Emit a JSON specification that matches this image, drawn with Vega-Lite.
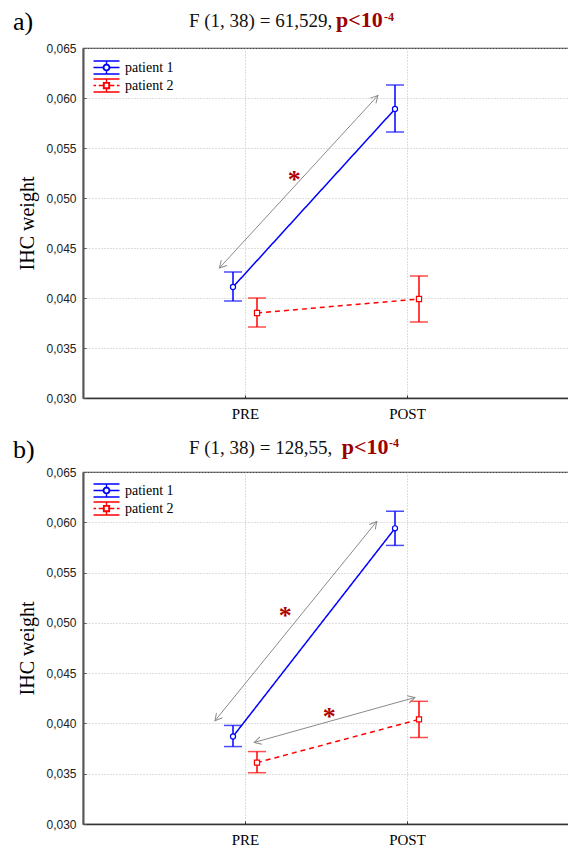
{
  "$schema": "https://vega.github.io/schema/vega-lite/v6.json",
  "background": "white",
  "padding": {"left": 12, "top": 8, "right": 0, "bottom": 0},
  "config": {
    "font": "Liberation Serif",
    "view": {"stroke": "#444", "strokeWidth": 1.2}
  },
  "datasets": {
    "means": [
      {"panel": "a", "patient": "patient 1", "time": "PRE", "mean": 0.0411, "lo": 0.0397, "hi": 0.0426},
      {"panel": "a", "patient": "patient 1", "time": "POST", "mean": 0.0589, "lo": 0.0566, "hi": 0.0613},
      {"panel": "a", "patient": "patient 2", "time": "PRE", "mean": 0.0385, "lo": 0.0371, "hi": 0.0400},
      {"panel": "a", "patient": "patient 2", "time": "POST", "mean": 0.0399, "lo": 0.0376, "hi": 0.0422},
      {"panel": "b", "patient": "patient 1", "time": "PRE", "mean": 0.0387, "lo": 0.0377, "hi": 0.0398},
      {"panel": "b", "patient": "patient 1", "time": "POST", "mean": 0.0594, "lo": 0.0577, "hi": 0.0611},
      {"panel": "b", "patient": "patient 2", "time": "PRE", "mean": 0.0361, "lo": 0.0351, "hi": 0.0372},
      {"panel": "b", "patient": "patient 2", "time": "POST", "mean": 0.0404, "lo": 0.0386, "hi": 0.0422}
    ],
    "arrows": [
      {"panel": "a", "x": 0.842, "y": 0.0430, "x2": 1.820, "y2": 0.06024, "a1": 132.6, "a2": -47.4},
      {"panel": "b", "x": 0.815, "y": 0.04027, "x2": 1.813, "y2": 0.06008, "a1": 129.1, "a2": -50.9},
      {"panel": "b", "x": 1.057, "y": 0.03811, "x2": 2.049, "y2": 0.04258, "a1": 164.4, "a2": -15.6}
    ],
    "texts": [
      {"panel": "a", "kind": "label", "text": "a)", "x": -0.432, "y": 0.06677},
      {"panel": "a", "kind": "stat", "text": "F (1, 38) = 61,529,", "x": 0.654, "y": 0.06707},
      {"panel": "a", "kind": "p", "text": "p<10", "x": 1.562, "y": 0.06707},
      {"panel": "a", "kind": "sup", "text": "-4", "x": 1.858, "y": 0.06772},
      {"panel": "a", "kind": "star", "text": "*", "x": 1.304, "y": 0.05234},
      {"panel": "b", "kind": "label", "text": "b)", "x": -0.432, "y": 0.06639},
      {"panel": "b", "kind": "stat", "text": "F (1, 38) = 128,55,", "x": 0.654, "y": 0.06682},
      {"panel": "b", "kind": "p", "text": "p<10", "x": 1.597, "y": 0.06682},
      {"panel": "b", "kind": "sup", "text": "-4", "x": 1.889, "y": 0.06747},
      {"panel": "b", "kind": "star", "text": "*", "x": 1.249, "y": 0.05120},
      {"panel": "b", "kind": "star", "text": "*", "x": 1.520, "y": 0.04109}
    ]
  },
  "resolve": {"legend": {"color": "independent"}},
  "bounds": "flush",
  "spacing": 74,
  "vconcat": [
    {
      "width": 486,
      "height": 350,
      "resolve": {"scale": {"x": "independent"}},
      "layer": [
        {
          "data": {"name": "means"},
          "transform": [{"filter": "datum.panel === 'a'"}],
          "encoding": {
            "x": {"field": "time", "type": "nominal", "sort": ["PRE", "POST"], "scale": {"type": "point", "domain": ["PRE", "POST"], "padding": 1}, "axis": {"title": null, "grid": true, "labelFont": "Liberation Serif", "labelFontSize": 15, "labelColor": "#000", "labelAngle": 0, "tickSize": -3, "labelPadding": 11, "domainColor": "#333", "domainWidth": 1.5, "tickColor": "#333", "gridDash": [1, 2], "gridColor": "#bdbdbd"}},
            "xOffset": {"field": "patient", "type": "nominal", "scale": {"type": "point", "domain": ["patient 1", "patient 2"], "range": [-12, 12], "padding": 0}},
            "color": {"field": "patient", "type": "nominal", "scale": {"domain": ["patient 1", "patient 2"], "range": ["#0000ff", "#ff0000"]}, "legend": {"title": null, "orient": "none", "legendX": 16, "legendY": 12, "padding": 0, "symbolSize": 169, "symbolStrokeWidth": 1.4, "symbolFillColor": "white", "labelFont": "Liberation Serif", "labelFontSize": 14, "labelColor": "#000", "labelOffset": 11, "rowPadding": -1, "encode": {"symbols": {"update": {"shape": {"signal": "datum.value === 'patient 1' ? 'M-2,-1H2M-2,1H2M0,-1V-0.5M0,0.5V1M-2,0H-0.5M0.5,0H2M-0.5,0A0.5,0.5 0 1,1 0.5,0A0.5,0.5 0 1,1 -0.5,0ZM-0.42,0A0.42,0.42 0 1,0 0.42,0A0.42,0.42 0 1,0 -0.42,0Z' : 'M-2,-1H2M-2,1H2M0,-1V-0.45M0,0.45V1M-2,0H-1.6M-1.2,0H-0.45M0.45,0H1.2M1.6,0H2M-0.45,-0.45H0.45V0.45H-0.45ZM-0.37,-0.37V0.37H0.37V-0.37Z'"}, "fill": {"value": "white"}, "opacity": {"value": 1}}}}}}
          },
          "layer": [
            {
              "mark": {"type": "rule", "strokeWidth": 1.5},
              "encoding": {
                "y": {"field": "lo", "type": "quantitative", "scale": {"domain": [0.03, 0.065], "nice": false, "zero": false}, "axis": {"title": "IHC weight", "titleFont": "Liberation Serif", "titleFontSize": 20, "titleFontWeight": "normal", "titleColor": "#000", "titlePadding": 8, "values": [0.03, 0.035, 0.04, 0.045, 0.05, 0.055, 0.06, 0.065], "labelExpr": "replace(format(datum.value, '.3f'), '.', ',')", "labelFont": "Liberation Sans", "labelFontSize": 12, "labelColor": "#222", "tickSize": -3, "labelPadding": 10, "domainColor": "#555", "domainWidth": 2, "tickColor": "#555", "grid": true, "gridDash": [1, 2], "gridColor": "#bdbdbd"}},
                "y2": {"field": "hi"}
              }
            },
            {
              "mark": {"type": "tick", "orient": "horizontal", "size": 18, "thickness": 1.5},
              "encoding": {"y": {"field": "lo", "type": "quantitative", "scale": {"domain": [0.03, 0.065], "nice": false, "zero": false}, "axis": {"title": "IHC weight"}}}
            },
            {
              "mark": {"type": "tick", "orient": "horizontal", "size": 18, "thickness": 1.5},
              "encoding": {"y": {"field": "hi", "type": "quantitative", "scale": {"domain": [0.03, 0.065], "nice": false, "zero": false}, "axis": {"title": "IHC weight"}}}
            },
            {
              "mark": {"type": "line", "strokeWidth": 1.5},
              "encoding": {
                "y": {"field": "mean", "type": "quantitative", "scale": {"domain": [0.03, 0.065], "nice": false, "zero": false}, "axis": {"title": "IHC weight"}},
                "strokeDash": {"field": "patient", "type": "nominal", "scale": {"domain": ["patient 1", "patient 2"], "range": [[1, 0], [5, 4]]}, "legend": null}
              }
            },
            {
              "mark": {"type": "point", "filled": true, "fill": "white", "size": 26, "strokeWidth": 1.2, "opacity": 1},
              "encoding": {
                "y": {"field": "mean", "type": "quantitative", "scale": {"domain": [0.03, 0.065], "nice": false, "zero": false}, "axis": {"title": "IHC weight"}},
                "shape": {"field": "patient", "type": "nominal", "scale": {"domain": ["patient 1", "patient 2"], "range": ["circle", "square"]}, "legend": null},
                "stroke": {"field": "patient", "type": "nominal", "scale": {"domain": ["patient 1", "patient 2"], "range": ["#0000ff", "#ff0000"]}, "legend": null}
              }
            }
          ]
        },
        {
          "layer": [
            {
              "data": {"name": "arrows"},
              "transform": [{"filter": "datum.panel === 'a'"}],
              "mark": {"type": "rule", "color": "#8a8a8a", "strokeWidth": 1},
              "encoding": {
                "x": {"field": "x", "type": "quantitative", "scale": {"domain": [0, 3]}, "axis": null},
                "x2": {"field": "x2"},
                "y": {"field": "y", "type": "quantitative", "scale": {"domain": [0.03, 0.065], "nice": false, "zero": false}, "axis": {"title": "IHC weight"}},
                "y2": {"field": "y2"}
              }
            },
            {
              "data": {"name": "arrows"},
              "transform": [{"filter": "datum.panel === 'a'"}],
              "mark": {"type": "point", "shape": "M-1,-0.55L0,0L-1,0.55", "size": 196, "filled": false, "color": "#8a8a8a", "strokeWidth": 1, "opacity": 1},
              "encoding": {
                "x": {"field": "x", "type": "quantitative", "scale": {"domain": [0, 3]}, "axis": null},
                "y": {"field": "y", "type": "quantitative", "scale": {"domain": [0.03, 0.065], "nice": false, "zero": false}, "axis": {"title": "IHC weight"}},
                "angle": {"field": "a1", "type": "quantitative", "scale": null}
              }
            },
            {
              "data": {"name": "arrows"},
              "transform": [{"filter": "datum.panel === 'a'"}],
              "mark": {"type": "point", "shape": "M-1,-0.55L0,0L-1,0.55", "size": 196, "filled": false, "color": "#8a8a8a", "strokeWidth": 1, "opacity": 1},
              "encoding": {
                "x": {"field": "x2", "type": "quantitative", "scale": {"domain": [0, 3]}, "axis": null},
                "y": {"field": "y2", "type": "quantitative", "scale": {"domain": [0.03, 0.065], "nice": false, "zero": false}, "axis": {"title": "IHC weight"}},
                "angle": {"field": "a2", "type": "quantitative", "scale": null}
              }
            },
            {
              "data": {"name": "texts"},
              "transform": [{"filter": "datum.panel === 'a' && datum.kind === 'label'"}],
              "mark": {"type": "text", "align": "left", "baseline": "alphabetic", "fontSize": 26, "font": "Liberation Serif", "color": "#000"},
              "encoding": {
                "x": {"field": "x", "type": "quantitative", "scale": {"domain": [0, 3]}, "axis": null},
                "y": {"field": "y", "type": "quantitative", "scale": {"domain": [0.03, 0.065], "nice": false, "zero": false}, "axis": {"title": "IHC weight"}},
                "text": {"field": "text"}
              }
            },
            {
              "data": {"name": "texts"},
              "transform": [{"filter": "datum.panel === 'a' && datum.kind === 'stat'"}],
              "mark": {"type": "text", "align": "left", "baseline": "alphabetic", "fontSize": 19, "font": "Liberation Serif", "color": "#111"},
              "encoding": {
                "x": {"field": "x", "type": "quantitative", "scale": {"domain": [0, 3]}, "axis": null},
                "y": {"field": "y", "type": "quantitative", "scale": {"domain": [0.03, 0.065], "nice": false, "zero": false}, "axis": {"title": "IHC weight"}},
                "text": {"field": "text"}
              }
            },
            {
              "data": {"name": "texts"},
              "transform": [{"filter": "datum.panel === 'a' && datum.kind === 'p'"}],
              "mark": {"type": "text", "align": "left", "baseline": "alphabetic", "fontSize": 22, "fontWeight": "bold", "font": "Liberation Serif", "color": "#9b0000"},
              "encoding": {
                "x": {"field": "x", "type": "quantitative", "scale": {"domain": [0, 3]}, "axis": null},
                "y": {"field": "y", "type": "quantitative", "scale": {"domain": [0.03, 0.065], "nice": false, "zero": false}, "axis": {"title": "IHC weight"}},
                "text": {"field": "text"}
              }
            },
            {
              "data": {"name": "texts"},
              "transform": [{"filter": "datum.panel === 'a' && datum.kind === 'sup'"}],
              "mark": {"type": "text", "align": "left", "baseline": "alphabetic", "fontSize": 12, "fontWeight": "bold", "font": "Liberation Serif", "color": "#9b0000"},
              "encoding": {
                "x": {"field": "x", "type": "quantitative", "scale": {"domain": [0, 3]}, "axis": null},
                "y": {"field": "y", "type": "quantitative", "scale": {"domain": [0.03, 0.065], "nice": false, "zero": false}, "axis": {"title": "IHC weight"}},
                "text": {"field": "text"}
              }
            },
            {
              "data": {"name": "texts"},
              "transform": [{"filter": "datum.panel === 'a' && datum.kind === 'star'"}],
              "mark": {"type": "text", "align": "center", "baseline": "alphabetic", "dy": 13, "fontSize": 26, "fontWeight": "bold", "font": "Liberation Serif", "color": "#b00000"},
              "encoding": {
                "x": {"field": "x", "type": "quantitative", "scale": {"domain": [0, 3]}, "axis": null},
                "y": {"field": "y", "type": "quantitative", "scale": {"domain": [0.03, 0.065], "nice": false, "zero": false}, "axis": {"title": "IHC weight"}},
                "text": {"field": "text"}
              }
            }
          ]
        }
      ]
    },
    {
      "width": 486,
      "height": 352,
      "resolve": {"scale": {"x": "independent"}},
      "layer": [
        {
          "data": {"name": "means"},
          "transform": [{"filter": "datum.panel === 'b'"}],
          "encoding": {
            "x": {"field": "time", "type": "nominal", "sort": ["PRE", "POST"], "scale": {"type": "point", "domain": ["PRE", "POST"], "padding": 1}, "axis": {"title": null, "grid": true, "labelFont": "Liberation Serif", "labelFontSize": 15, "labelColor": "#000", "labelAngle": 0, "tickSize": -3, "labelPadding": 11, "domainColor": "#333", "domainWidth": 1.5, "tickColor": "#333", "gridDash": [1, 2], "gridColor": "#bdbdbd"}},
            "xOffset": {"field": "patient", "type": "nominal", "scale": {"type": "point", "domain": ["patient 1", "patient 2"], "range": [-12, 12], "padding": 0}},
            "color": {"field": "patient", "type": "nominal", "scale": {"domain": ["patient 1", "patient 2"], "range": ["#0000ff", "#ff0000"]}, "legend": {"title": null, "orient": "none", "legendX": 16, "legendY": 11, "padding": 0, "symbolSize": 169, "symbolStrokeWidth": 1.4, "symbolFillColor": "white", "labelFont": "Liberation Serif", "labelFontSize": 14, "labelColor": "#000", "labelOffset": 11, "rowPadding": -1, "encode": {"symbols": {"update": {"shape": {"signal": "datum.value === 'patient 1' ? 'M-2,-1H2M-2,1H2M0,-1V-0.5M0,0.5V1M-2,0H-0.5M0.5,0H2M-0.5,0A0.5,0.5 0 1,1 0.5,0A0.5,0.5 0 1,1 -0.5,0ZM-0.42,0A0.42,0.42 0 1,0 0.42,0A0.42,0.42 0 1,0 -0.42,0Z' : 'M-2,-1H2M-2,1H2M0,-1V-0.45M0,0.45V1M-2,0H-1.6M-1.2,0H-0.45M0.45,0H1.2M1.6,0H2M-0.45,-0.45H0.45V0.45H-0.45ZM-0.37,-0.37V0.37H0.37V-0.37Z'"}, "fill": {"value": "white"}, "opacity": {"value": 1}}}}}}
          },
          "layer": [
            {
              "mark": {"type": "rule", "strokeWidth": 1.5},
              "encoding": {
                "y": {"field": "lo", "type": "quantitative", "scale": {"domain": [0.03, 0.065], "nice": false, "zero": false}, "axis": {"title": "IHC weight", "titleFont": "Liberation Serif", "titleFontSize": 20, "titleFontWeight": "normal", "titleColor": "#000", "titlePadding": 8, "values": [0.03, 0.035, 0.04, 0.045, 0.05, 0.055, 0.06, 0.065], "labelExpr": "replace(format(datum.value, '.3f'), '.', ',')", "labelFont": "Liberation Sans", "labelFontSize": 12, "labelColor": "#222", "tickSize": -3, "labelPadding": 10, "domainColor": "#555", "domainWidth": 2, "tickColor": "#555", "grid": true, "gridDash": [1, 2], "gridColor": "#bdbdbd"}},
                "y2": {"field": "hi"}
              }
            },
            {
              "mark": {"type": "tick", "orient": "horizontal", "size": 18, "thickness": 1.5},
              "encoding": {"y": {"field": "lo", "type": "quantitative", "scale": {"domain": [0.03, 0.065], "nice": false, "zero": false}, "axis": {"title": "IHC weight"}}}
            },
            {
              "mark": {"type": "tick", "orient": "horizontal", "size": 18, "thickness": 1.5},
              "encoding": {"y": {"field": "hi", "type": "quantitative", "scale": {"domain": [0.03, 0.065], "nice": false, "zero": false}, "axis": {"title": "IHC weight"}}}
            },
            {
              "mark": {"type": "line", "strokeWidth": 1.5},
              "encoding": {
                "y": {"field": "mean", "type": "quantitative", "scale": {"domain": [0.03, 0.065], "nice": false, "zero": false}, "axis": {"title": "IHC weight"}},
                "strokeDash": {"field": "patient", "type": "nominal", "scale": {"domain": ["patient 1", "patient 2"], "range": [[1, 0], [5, 4]]}, "legend": null}
              }
            },
            {
              "mark": {"type": "point", "filled": true, "fill": "white", "size": 26, "strokeWidth": 1.2, "opacity": 1},
              "encoding": {
                "y": {"field": "mean", "type": "quantitative", "scale": {"domain": [0.03, 0.065], "nice": false, "zero": false}, "axis": {"title": "IHC weight"}},
                "shape": {"field": "patient", "type": "nominal", "scale": {"domain": ["patient 1", "patient 2"], "range": ["circle", "square"]}, "legend": null},
                "stroke": {"field": "patient", "type": "nominal", "scale": {"domain": ["patient 1", "patient 2"], "range": ["#0000ff", "#ff0000"]}, "legend": null}
              }
            }
          ]
        },
        {
          "layer": [
            {
              "data": {"name": "arrows"},
              "transform": [{"filter": "datum.panel === 'b'"}],
              "mark": {"type": "rule", "color": "#8a8a8a", "strokeWidth": 1},
              "encoding": {
                "x": {"field": "x", "type": "quantitative", "scale": {"domain": [0, 3]}, "axis": null},
                "x2": {"field": "x2"},
                "y": {"field": "y", "type": "quantitative", "scale": {"domain": [0.03, 0.065], "nice": false, "zero": false}, "axis": {"title": "IHC weight"}},
                "y2": {"field": "y2"}
              }
            },
            {
              "data": {"name": "arrows"},
              "transform": [{"filter": "datum.panel === 'b'"}],
              "mark": {"type": "point", "shape": "M-1,-0.55L0,0L-1,0.55", "size": 196, "filled": false, "color": "#8a8a8a", "strokeWidth": 1, "opacity": 1},
              "encoding": {
                "x": {"field": "x", "type": "quantitative", "scale": {"domain": [0, 3]}, "axis": null},
                "y": {"field": "y", "type": "quantitative", "scale": {"domain": [0.03, 0.065], "nice": false, "zero": false}, "axis": {"title": "IHC weight"}},
                "angle": {"field": "a1", "type": "quantitative", "scale": null}
              }
            },
            {
              "data": {"name": "arrows"},
              "transform": [{"filter": "datum.panel === 'b'"}],
              "mark": {"type": "point", "shape": "M-1,-0.55L0,0L-1,0.55", "size": 196, "filled": false, "color": "#8a8a8a", "strokeWidth": 1, "opacity": 1},
              "encoding": {
                "x": {"field": "x2", "type": "quantitative", "scale": {"domain": [0, 3]}, "axis": null},
                "y": {"field": "y2", "type": "quantitative", "scale": {"domain": [0.03, 0.065], "nice": false, "zero": false}, "axis": {"title": "IHC weight"}},
                "angle": {"field": "a2", "type": "quantitative", "scale": null}
              }
            },
            {
              "data": {"name": "texts"},
              "transform": [{"filter": "datum.panel === 'b' && datum.kind === 'label'"}],
              "mark": {"type": "text", "align": "left", "baseline": "alphabetic", "fontSize": 26, "font": "Liberation Serif", "color": "#000"},
              "encoding": {
                "x": {"field": "x", "type": "quantitative", "scale": {"domain": [0, 3]}, "axis": null},
                "y": {"field": "y", "type": "quantitative", "scale": {"domain": [0.03, 0.065], "nice": false, "zero": false}, "axis": {"title": "IHC weight"}},
                "text": {"field": "text"}
              }
            },
            {
              "data": {"name": "texts"},
              "transform": [{"filter": "datum.panel === 'b' && datum.kind === 'stat'"}],
              "mark": {"type": "text", "align": "left", "baseline": "alphabetic", "fontSize": 19, "font": "Liberation Serif", "color": "#111"},
              "encoding": {
                "x": {"field": "x", "type": "quantitative", "scale": {"domain": [0, 3]}, "axis": null},
                "y": {"field": "y", "type": "quantitative", "scale": {"domain": [0.03, 0.065], "nice": false, "zero": false}, "axis": {"title": "IHC weight"}},
                "text": {"field": "text"}
              }
            },
            {
              "data": {"name": "texts"},
              "transform": [{"filter": "datum.panel === 'b' && datum.kind === 'p'"}],
              "mark": {"type": "text", "align": "left", "baseline": "alphabetic", "fontSize": 22, "fontWeight": "bold", "font": "Liberation Serif", "color": "#9b0000"},
              "encoding": {
                "x": {"field": "x", "type": "quantitative", "scale": {"domain": [0, 3]}, "axis": null},
                "y": {"field": "y", "type": "quantitative", "scale": {"domain": [0.03, 0.065], "nice": false, "zero": false}, "axis": {"title": "IHC weight"}},
                "text": {"field": "text"}
              }
            },
            {
              "data": {"name": "texts"},
              "transform": [{"filter": "datum.panel === 'b' && datum.kind === 'sup'"}],
              "mark": {"type": "text", "align": "left", "baseline": "alphabetic", "fontSize": 12, "fontWeight": "bold", "font": "Liberation Serif", "color": "#9b0000"},
              "encoding": {
                "x": {"field": "x", "type": "quantitative", "scale": {"domain": [0, 3]}, "axis": null},
                "y": {"field": "y", "type": "quantitative", "scale": {"domain": [0.03, 0.065], "nice": false, "zero": false}, "axis": {"title": "IHC weight"}},
                "text": {"field": "text"}
              }
            },
            {
              "data": {"name": "texts"},
              "transform": [{"filter": "datum.panel === 'b' && datum.kind === 'star'"}],
              "mark": {"type": "text", "align": "center", "baseline": "alphabetic", "dy": 13, "fontSize": 26, "fontWeight": "bold", "font": "Liberation Serif", "color": "#b00000"},
              "encoding": {
                "x": {"field": "x", "type": "quantitative", "scale": {"domain": [0, 3]}, "axis": null},
                "y": {"field": "y", "type": "quantitative", "scale": {"domain": [0.03, 0.065], "nice": false, "zero": false}, "axis": {"title": "IHC weight"}},
                "text": {"field": "text"}
              }
            }
          ]
        }
      ]
    }
  ]
}
